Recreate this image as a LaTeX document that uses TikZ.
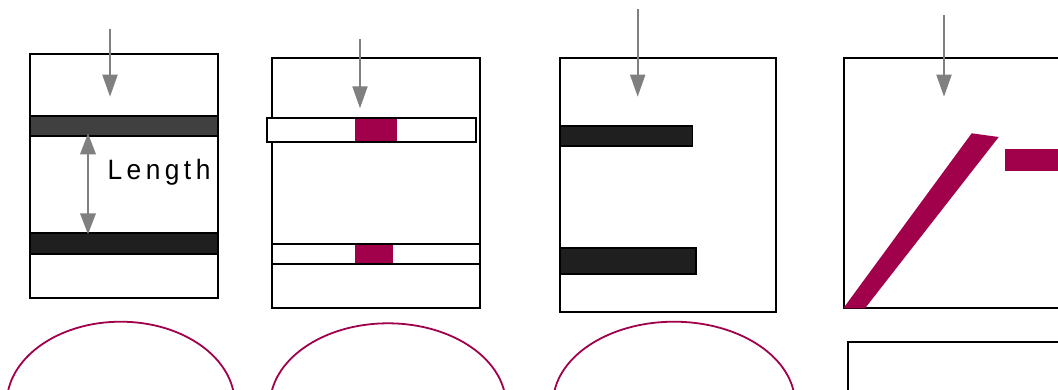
\documentclass[tikz,border=0pt]{standalone}
\usepackage{fontspec}
\setmainfont{Liberation Sans}
\newfontfamily\spacedfont[LetterSpace=17]{Liberation Sans}
\usetikzlibrary{arrows.meta}
\definecolor{berry}{RGB}{161,0,75}
\definecolor{barA}{RGB}{64,64,64}
\definecolor{barB}{RGB}{31,31,31}
\definecolor{ptr}{RGB}{128,128,128}
\tikzset{
  frame/.style={draw=black,line width=2pt},
  bar/.style={draw=black,line width=1.6pt},
  patch/.style={fill=berry,draw=none},
  lens/.style={draw=berry,line width=1.8pt},
  pointer/.style={draw=ptr,line width=2pt,-{Triangle[length=22pt,width=15pt]}},
  twoway/.style={draw=ptr,line width=2pt,{Triangle[length=21pt,width=15.5pt]}-{Triangle[length=21pt,width=15.5pt]}},
}
\begin{document}
\begin{tikzpicture}[x=1pt,y=-1pt]
\useasboundingbox (0,0) rectangle (1058,389);
\clip (0,0) rectangle (1058,389);

% ---- panel 1: two full-width bars and the distance between them
\draw[frame] (30,54) rectangle (218,298);
\draw[bar,fill=barA] (30,115.7) rectangle (218,135.7);
\draw[bar,fill=barB] (30,233) rectangle (218,254);
\coordinate (p1top) at (110,29);
\coordinate (p1tip) at (110,96.7);
\draw[pointer] (p1top) -- (p1tip);
\coordinate (lenA) at (88,133.3);
\coordinate (lenB) at (88,234.3);
\draw[twoway] (lenA) -- (lenB);
\node[anchor=base,inner sep=0pt] (lenlabel) at (159,179)
  {\scalebox{0.94}[1]{\fontsize{28}{32}\selectfont\spacedfont Length}};

% ---- panel 2: open strips with coloured centre patches
\draw[frame] (272,58) rectangle (480,307.7);
\draw[frame,fill=white] (267.3,117.7) rectangle (476,142);
\fill[patch] (355,118.7) rectangle (397,141);
\draw[frame] (272,243.7) rectangle (480,264);
\fill[patch] (355,244.7) rectangle (393,263);
\coordinate (p2top) at (360,39.3);
\coordinate (p2tip) at (360,108.3);
\draw[pointer] (p2top) -- (p2tip);

% ---- panel 3: two half-width bars from the left wall
\draw[frame] (560,58) rectangle (776,311.7);
\draw[bar,fill=barB] (560,126) rectangle (692.3,145.7);
\draw[bar,fill=barB] (560,247.7) rectangle (696,274);
\coordinate (p3top) at (637.7,9.3);
\coordinate (p3tip) at (637.7,96.7);
\draw[pointer] (p3top) -- (p3tip);

% ---- panel 4: slanted strip and a short bar
\draw[frame] (1070,57.7) -- (843.7,57.7) -- (843.7,307.7) -- (1070,307.7);
\fill[patch] (843.3,308.3) -- (865,308.3) -- (998.7,137) -- (971.7,133.3) -- cycle;
\fill[patch] (1005,149) rectangle (1070,170.7);
\coordinate (p4top) at (944,15);
\coordinate (p4tip) at (944,96.7);
\draw[pointer] (p4top) -- (p4tip);
\draw[frame] (1070,342.3) -- (847.7,342.3) -- (847.7,400);

% ---- lens outlines below the panels
\draw[lens] (120.7,403.7) ellipse [x radius=114,y radius=82];
\draw[lens] (388,405.3) ellipse [x radius=118,y radius=82];
\draw[lens] (674,403.7) ellipse [x radius=121,y radius=82];
\end{tikzpicture}
\end{document}
